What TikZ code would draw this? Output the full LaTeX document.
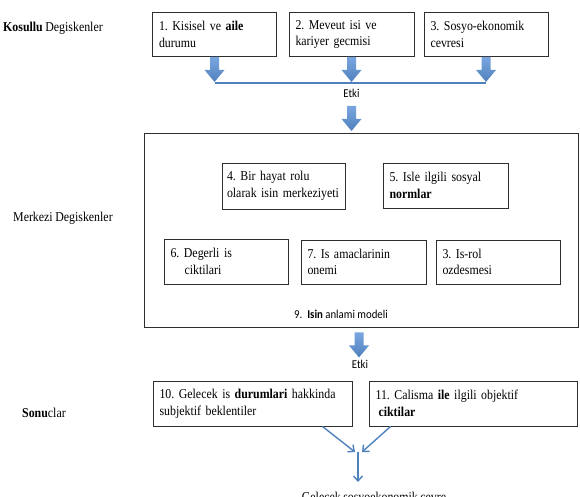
\documentclass[tikz,border=0pt]{standalone}
\usepackage{fontspec}
\setmainfont[FakeStretch=0.88,WordSpace=0.85]{Liberation Serif}
\newfontfamily\calibri[FakeStretch=0.9]{Carlito}
\usetikzlibrary{calc,arrows.meta}
\definecolor{arrowblue}{RGB}{79,129,189}
\definecolor{arrowlight}{RGB}{122,166,224}
\definecolor{boxline}{RGB}{45,45,45}
\frenchspacing
\begin{document}
\begin{tikzpicture}[x=1pt,y=-1pt,
  box/.style={draw=boxline,line width=0.9pt,inner xsep=6.5pt,inner ysep=5pt,align=left,
    font=\fontsize{13.5}{16.5}\selectfont,fill=white},
  lbl/.style={font=\fontsize{13.5}{15}\selectfont,inner sep=0pt,anchor=west},
  etki/.style={font=\calibri\fontsize{12}{13}\selectfont,inner sep=0pt},
  blockarrow/.pic={\shade[top color=arrowlight,bottom color=arrowblue]
    (-4.5,0) -- (4.5,0) -- (4.5,13) -- (10,13) -- (0,25) -- (-10,13) -- (-4.5,13) -- cycle;},
  hline/.style={draw=arrowblue,line width=2.8pt},
  thinarrow/.style={draw=arrowblue,line width=1.4pt,-{Straight Barb[length=5pt,width=9pt]}}
]
\useasboundingbox (0,0) rectangle (580,497);

% left labels
\node[lbl] (k) at (3,28) {\textbf{Kosullu} Degiskenler};
\node[lbl] (m) at (13,218) {Merkezi Degiskenler};
\node[lbl] (s) at (22,413) {\textbf{Sonu}clar};

% top boxes
\node[box,minimum width=124pt,minimum height=44pt,text width=111pt] (b1) at (214.5,34.5) {1. Kisisel ve \textbf{aile}\\durumu};
\node[box,minimum width=125pt,minimum height=44pt,text width=112pt] (b2) at (351.5,34.5) {2. Meveut isi ve\\kariyer gecmisi};
\node[box,minimum width=124pt,minimum height=44pt,text width=111pt] (b3) at (486,34.5) {3. Sosyo-ekonomik\\cevresi};

\coordinate (h1) at ($(b1.south)+(0,26)$);
\coordinate (h3) at ($(b3.south)+(0,26)$);
\draw[hline] (h1) -- (h3);
\pic at (b1.south) {blockarrow};
\pic at (b2.south) {blockarrow};
\pic at (b3.south) {blockarrow};
\node[etki] (e1) at ($(b2.south)+(0,36)$) {Etki};
\pic at ($(b2.south)+(0,49)$) {blockarrow};

% central big box
\node[draw=boxline,line width=0.9pt,minimum width=434pt,minimum height=194pt,inner sep=0pt] (M) at (361,230) {};
\node[box,inner xsep=5pt,minimum width=123pt,minimum height=46pt,text width=113pt] (b4) at (283.5,186) {4. Bir hayat rolu\\\mbox{olarak isin merkeziyeti}};
\node[box,minimum width=125pt,minimum height=45pt,text width=112pt] (b5) at (445.5,185.5) {5. Isle ilgili sosyal\\\textbf{normlar}};
\node[box,minimum width=124pt,minimum height=45pt,text width=111pt] (b6) at (226,261.5) {6. Degerli is\\\hspace*{14pt}ciktilari};
\node[box,minimum width=125pt,minimum height=44pt,text width=112pt] (b7) at (363.5,262) {7. Is amaclarinin\\onemi};
\node[box,minimum width=124pt,minimum height=44pt,text width=111pt] (b8) at (498,262) {3. Is-rol\\ozdesmesi};
\node[etki] (m9) at (341,314) {9.\ \ \textbf{Isin} anlami modeli};

\pic at ($(M.south)+(-2,5)$) {blockarrow};
\node[etki] (e2) at (360,364) {Etki};

% outcome boxes
\node[box,minimum width=199pt,minimum height=45pt,text width=186pt] (b10) at (252.5,403.5) {10. Gelecek is \textbf{durumlari} hakkinda\\subjektif beklentiler};
\node[box,minimum width=208pt,minimum height=45pt,text width=195pt] (b11) at (473,403.5) {11. Calisma \textbf{ile} ilgili objektif\\\hspace*{3pt}\textbf{ciktilar}};

\node[font=\fontsize{13.5}{15}\selectfont,inner sep=0pt,anchor=base] (g) at (374,501.5) {Gelecek sosyoekonomik cevre};

\coordinate (s10) at ($(b10.south east)+(-30,0)$);
\coordinate (s11) at ($(b11.south west)+(22,0)$);
\coordinate (jl) at (355,452);
\coordinate (jr) at (362,452);
\coordinate (jt) at (358,452);
\coordinate (jb) at (358,482);
\draw[thinarrow] (s10) -- (jl);
\draw[thinarrow] (s11) -- (jr);
\draw[thinarrow] (jt) -- (jb);
\end{tikzpicture}
\end{document}
